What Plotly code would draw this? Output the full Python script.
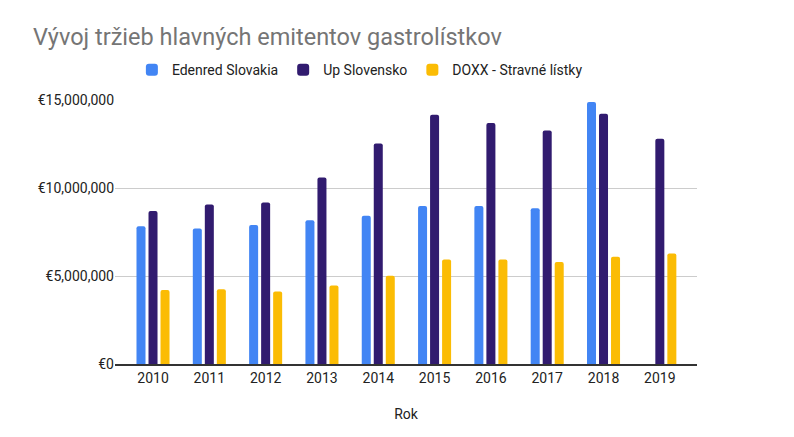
import plotly.graph_objects as go

years = ["2010", "2011", "2012", "2013", "2014", "2015", "2016", "2017", "2018", "2019"]
edenred = [7.83e6, 7.70e6, 7.90e6, 8.17e6, 8.43e6, 8.98e6, 8.98e6, 8.85e6, 14.88e6, None]
up = [8.70e6, 9.06e6, 9.17e6, 10.59e6, 12.53e6, 14.16e6, 13.69e6, 13.27e6, 14.22e6, 12.80e6]
doxx = [4.20e6, 4.25e6, 4.12e6, 4.46e6, 5.01e6, 5.94e6, 5.94e6, 5.80e6, 6.09e6, 6.28e6]
series_names = ["Edenred Slovakia", "Up Slovensko", "DOXX - Stravné lístky"]
colors = ["#4285F4", "#311B6F", "#FBBC04"]
y_ticks = [0, 5e6, 10e6, 15e6]
y_tick_labels = ["€0", "€5,000,000", "€10,000,000", "€15,000,000"]

xpos = list(range(len(years)))
fig = go.Figure()
for name, vals, col in zip(series_names, [edenred, up, doxx], colors):
    fig.add_trace(go.Bar(x=xpos, y=vals, name=name, marker=dict(color=col, line=dict(width=0))))

font = "Roboto, Arial, sans-serif"
fig.update_layout(
    width=786, height=429,
    margin=dict(l=107, r=97, t=92, b=73),
    paper_bgcolor="white", plot_bgcolor="white",
    barmode="group", bargap=0.36, bargroupgap=0.25, barcornerradius=2,
    title=dict(text="Vývoj tržieb hlavných emitentov gastrolístkov",
               font=dict(family=font, size=23.5, color="#757575"),
               x=0, xref="container", xanchor="left", y=0.932, yref="container", yanchor="middle",
               pad=dict(l=25)),
    legend=dict(orientation="h", x=0.029, xanchor="left", y=1.113, yanchor="middle",
                font=dict(family=font, size=14, color="#222222"),
                itemclick=False, itemdoubleclick=False, traceorder="normal"),
    font=dict(family=font, color="#222222"),
    showlegend=True,
)
fig.update_xaxes(
    tickmode="array", tickvals=xpos, ticktext=years,
    range=[-0.675, 9.66], showgrid=False, zeroline=False,
    showline=True, linecolor="#333333", linewidth=1.5,
    ticks="", tickfont=dict(family=font, size=14, color="#222222"),
    title=dict(text="Rok", font=dict(family=font, size=14, color="#222222"), standoff=25),
)
fig.update_yaxes(
    tickmode="array", tickvals=y_ticks, ticktext=y_tick_labels,
    range=[0, 15e6], showgrid=True, gridcolor="#cccccc", gridwidth=1,
    zeroline=False, showline=False, ticks="",
    tickfont=dict(family=font, size=14, color="#222222"),
)
fig.write_html("out.html")
